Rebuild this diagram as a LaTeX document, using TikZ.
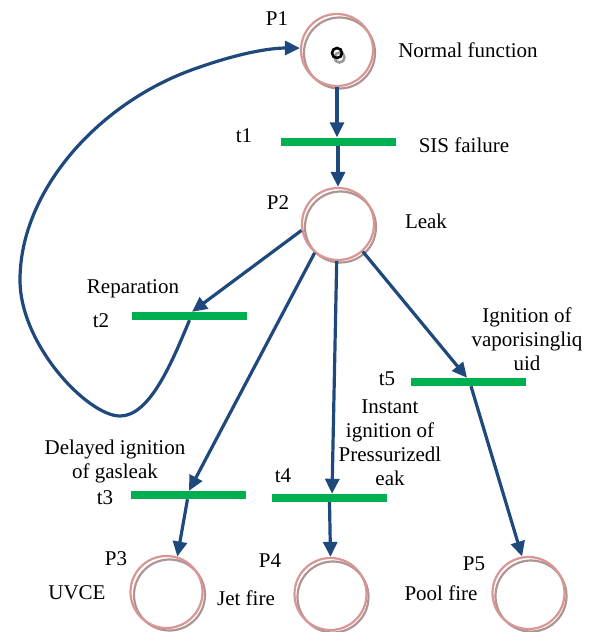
\documentclass[tikz,border=0pt]{standalone}
\usepackage{fontspec}
\setmainfont{Liberation Serif}
\usetikzlibrary{arrows.meta}

\definecolor{arcblue}{HTML}{1F497D}
\definecolor{bargreen}{HTML}{00B050}
\definecolor{placepink}{HTML}{D99694}
\definecolor{placegray}{HTML}{B09494}
\definecolor{tokengray}{HTML}{9A9A9A}

\tikzset{
  place/.style={circle, draw=placepink, line width=2.2pt, minimum size=72pt, inner sep=0pt},
  ring/.style={circle, draw=placegray, line width=2.2pt, minimum size=71pt, inner sep=0pt},
  transition/.style={rectangle, fill=bargreen, minimum width=115pt, minimum height=8pt, inner sep=0pt},
  arc/.style={draw=arcblue, line width=3.2pt, -{Triangle[length=15pt,width=14pt]}},
  lbl/.style={font=\fontsize{21}{24}\selectfont, inner sep=0pt, align=center},
  token/.style={circle, draw=black, line width=2.6pt, minimum size=10pt, inner sep=0pt},
  tokenshade/.style={circle, draw=tokengray, line width=2.6pt, minimum size=10pt, inner sep=0pt},
}

\begin{document}
\begin{tikzpicture}[x=1pt, y=-1pt]
  \useasboundingbox[fill=white] (0,0) rectangle (592,632);

  % shaded rings behind the places
  \node[ring] (P1s) at (339.5,53) {};
  \node[ring] (P2s) at (340.5,227) {};
  \node[ring] (P3s) at (169.5,595) {};
  \node[ring] (P4s) at (333,597) {};
  \node[ring] (P5s) at (531,596) {};

  % places
  \node[place] (P1) at (337,50) {};
  \node[place] (P2) at (338,224) {};
  \node[place] (P3) at (166.5,592) {};
  \node[place] (P4) at (330.5,594) {};
  \node[place] (P5) at (528.5,593) {};

  % token in P1
  \node[tokenshade] (tks) at (339.5,57.5) {};
  \node[token] (tk) at (337,53) {};

  % transitions
  \node[transition] (t1) at (338.5,141.5) {};
  \node[transition] (t2) at (189.5,316) {};
  \node[transition] (t3) at (188.5,495) {};
  \node[transition] (t4) at (329.5,498) {};
  \node[transition] (t5) at (468,382) {};

  % arcs
  \draw[arc] (P1.south) -- (P1.south |- t1.north);
  \draw[arc] (P2.north |- t1.south) -- (P2.north);
  \draw[arc] (P2.190) -- ([xshift=2.5pt]t2.north);
  \draw[arc] (P2.231) -- ([xshift=0.5pt]t3.north);
  \draw[arc] (P2.268) -- ([xshift=2.5pt]t4.north);
  \draw[arc] (P2.312) -- ([xshift=-1pt]t5.north);
  \draw[arc] ([xshift=-1pt]t3.south) -- (P3.73);
  \draw[arc] (t4.south) -- (P4.north);
  \draw[arc] ([xshift=3pt]t5.south) -- (P5.100);

  % repair loop back to P1
  \coordinate (lb) at (120,416);
  \coordinate (ll) at (20,280);
  \coordinate (lt) at (200,67);
  \draw[arc] (t2.south) .. controls (172,362) and (150,416) .. (lb)
    .. controls (88,416) and (20,345) .. (ll)
    .. controls (20,190) and (100,100) .. (lt)
    .. controls (240,53) and (270,48) .. (P1.177);

  % labels
  \node[lbl] (lP1) at (277,19) {P1};
  \node[lbl] (lnf) at (468,50) {Normal function};
  \node[lbl] (lt1) at (244,136) {t1};
  \node[lbl] (lsis) at (464,145) {SIS failure};
  \node[lbl] (lP2) at (278,203) {P2};
  \node[lbl] (lleak) at (426,221) {Leak};
  \node[lbl] (lrep) at (133,289) {Reparation};
  \node[lbl] (lt2) at (101,321) {t2};
  \node[lbl] (lvap) at (527,339) {Ignition of\\vaporisingliq\\uid};
  \node[lbl] (lt5) at (387,379) {t5};
  \node[lbl] (linst) at (390,443) {Instant\\ignition of\\Pressurizedl\\eak};
  \node[lbl] (ldel) at (115,461) {Delayed ignition\\of gasleak};
  \node[lbl] (lt3) at (105,498) {t3};
  \node[lbl] (lt4) at (283,476) {t4};
  \node[lbl] (lP3) at (116,559) {P3};
  \node[lbl] (luvce) at (77,593) {UVCE};
  \node[lbl] (lP4) at (270,561) {P4};
  \node[lbl] (ljet) at (246,598) {Jet fire};
  \node[lbl] (lP5) at (474,564) {P5};
  \node[lbl] (lpool) at (441,593) {Pool fire};
\end{tikzpicture}
\end{document}
